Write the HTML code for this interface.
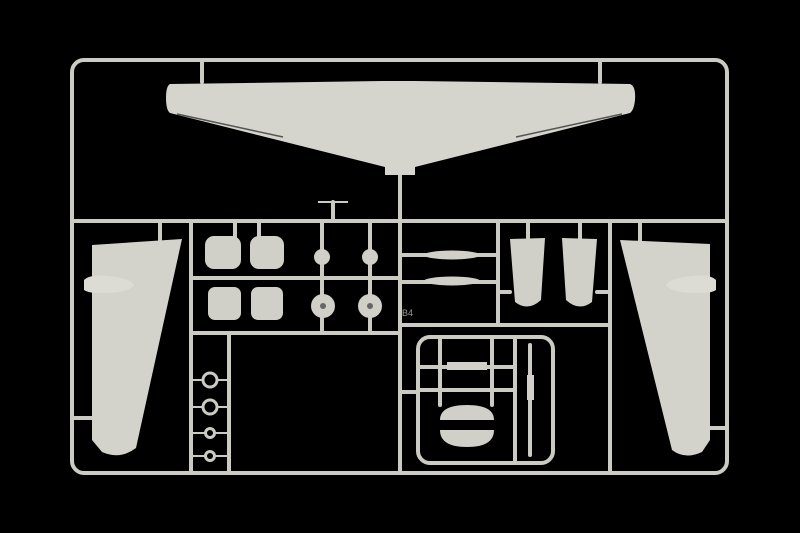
<!DOCTYPE html>
<html><head><meta charset="utf-8"><style>
html,body{margin:0;padding:0;background:#000;}
svg{display:block}
</style></head><body>
<svg width="800" height="533" viewBox="0 0 800 533" xmlns="http://www.w3.org/2000/svg">
<rect width="800" height="533" fill="#000"/>
<g fill="none" stroke="#cbcbc3" stroke-width="4" stroke-linecap="round">
<rect x="72" y="60" width="655" height="413" rx="12"/>
<line x1="72" y1="221" x2="727" y2="221"/>
<line x1="191" y1="221" x2="191" y2="473"/>
<line x1="191" y1="278" x2="400" y2="278"/>
<line x1="191" y1="333" x2="400" y2="333"/>
<line x1="229" y1="333" x2="229" y2="473"/>
<line x1="400" y1="175" x2="400" y2="473"/>
<line x1="498" y1="221" x2="498" y2="325"/>
<line x1="400" y1="325" x2="610" y2="325"/>
<line x1="610" y1="221" x2="610" y2="473"/>
<line x1="400" y1="255" x2="498" y2="255"/>
<line x1="400" y1="282" x2="498" y2="282"/>
<line x1="498" y1="292" x2="510" y2="292"/>
<line x1="597" y1="292" x2="610" y2="292"/>
<rect x="418" y="337" width="135" height="126" rx="12"/>
<line x1="515" y1="337" x2="515" y2="463"/>
<line x1="418" y1="367" x2="515" y2="367"/>
<line x1="418" y1="390" x2="515" y2="390"/>
<line x1="400" y1="392" x2="418" y2="392"/>
<line x1="202" y1="60" x2="202" y2="82"/>
<line x1="600" y1="60" x2="600" y2="82"/>
<line x1="333" y1="202" x2="333" y2="221"/>
<line x1="72" y1="418" x2="92" y2="418"/>
<line x1="710" y1="428" x2="727" y2="428"/>
<line x1="160" y1="221" x2="160" y2="242"/>
<line x1="640" y1="221" x2="640" y2="242"/>
<line x1="235" y1="221" x2="235" y2="238"/>
<line x1="259" y1="221" x2="259" y2="238"/>
<line x1="322" y1="221" x2="322" y2="333"/>
<line x1="370" y1="221" x2="370" y2="333"/>
<line x1="528" y1="221" x2="528" y2="240"/>
<line x1="580" y1="221" x2="580" y2="240"/>
<line x1="440" y1="337" x2="440" y2="405"/>
<line x1="492" y1="337" x2="492" y2="405"/>
<line x1="530" y1="345" x2="530" y2="455"/>
</g>
<g stroke="#cbcbc3" stroke-width="2">
<line x1="318" y1="202" x2="348" y2="202"/>
<line x1="191" y1="380" x2="229" y2="380"/>
<line x1="191" y1="407" x2="229" y2="407"/>
<line x1="191" y1="433" x2="229" y2="433"/>
<line x1="191" y1="456" x2="229" y2="456"/>
</g>
<path d="M170 84 L385 81 L415 81 L630 84 Q636 86 635 100 Q634 110 630 113 L415 167 L415 175 L385 175 L385 167 L170 113 Q166 110 166 98 Q166 86 170 84 Z" fill="#d5d5cd"/>
<path d="M177 114 L283 137 M622 114 L516 137" stroke="#555" stroke-width="1.5"/>
<path d="M92 245 L182 239 L136 448 Q120 460 102 452 L92 440 Z" fill="#d3d3cb"/>
<path d="M84 280 Q90 274 108 276 Q130 278 134 285 Q130 292 108 293 Q90 294 84 290 Z" fill="#dcdcd4"/>
<path d="M620 240 L710 244 L710 440 L702 452 Q685 460 672 450 Z" fill="#d3d3cb"/>
<path d="M716 280 Q710 274 692 276 Q670 278 666 285 Q670 292 692 293 Q710 294 716 290 Z" fill="#dcdcd4"/>
<g fill="#d0d0c8">
<rect x="205" y="236" width="36" height="33" rx="9"/>
<rect x="250" y="236" width="34" height="33" rx="9"/>
<rect x="208" y="287" width="33" height="33" rx="7"/>
<rect x="251" y="287" width="32" height="33" rx="7"/>
<circle cx="322" cy="257" r="8"/><circle cx="370" cy="257" r="8"/>
<circle cx="323" cy="306" r="12"/><circle cx="370" cy="306" r="12"/>
<ellipse cx="452" cy="255" rx="28" ry="4.5"/>
<ellipse cx="452" cy="281" rx="28" ry="4.5"/>
<path d="M510 239 L545 238 L541 300 Q528 312 515 302 Z"/>
<path d="M562 238 L597 239 L592 302 Q579 312 566 300 Z"/>
<path d="M440 420 Q440 405 467 405 Q494 405 494 420 Z"/>
<path d="M440 430 Q440 447 467 447 Q494 447 494 430 Z"/>
<rect x="447" y="362" width="40" height="8"/>
<rect x="527" y="375" width="7" height="25"/>
</g>
<g fill="#000" stroke="#cbcbc3" stroke-width="3">
<circle cx="210" cy="380" r="7"/>
<circle cx="210" cy="407" r="7"/>
<circle cx="210" cy="433" r="4.5"/>
<circle cx="210" cy="456" r="4.5"/>
</g>
<circle cx="323" cy="306" r="3" fill="#666"/><circle cx="370" cy="306" r="3" fill="#666"/>
<text x="402" y="316" font-family="Liberation Sans, sans-serif" font-size="9" fill="#999">B4</text>
</svg>
</body></html>
